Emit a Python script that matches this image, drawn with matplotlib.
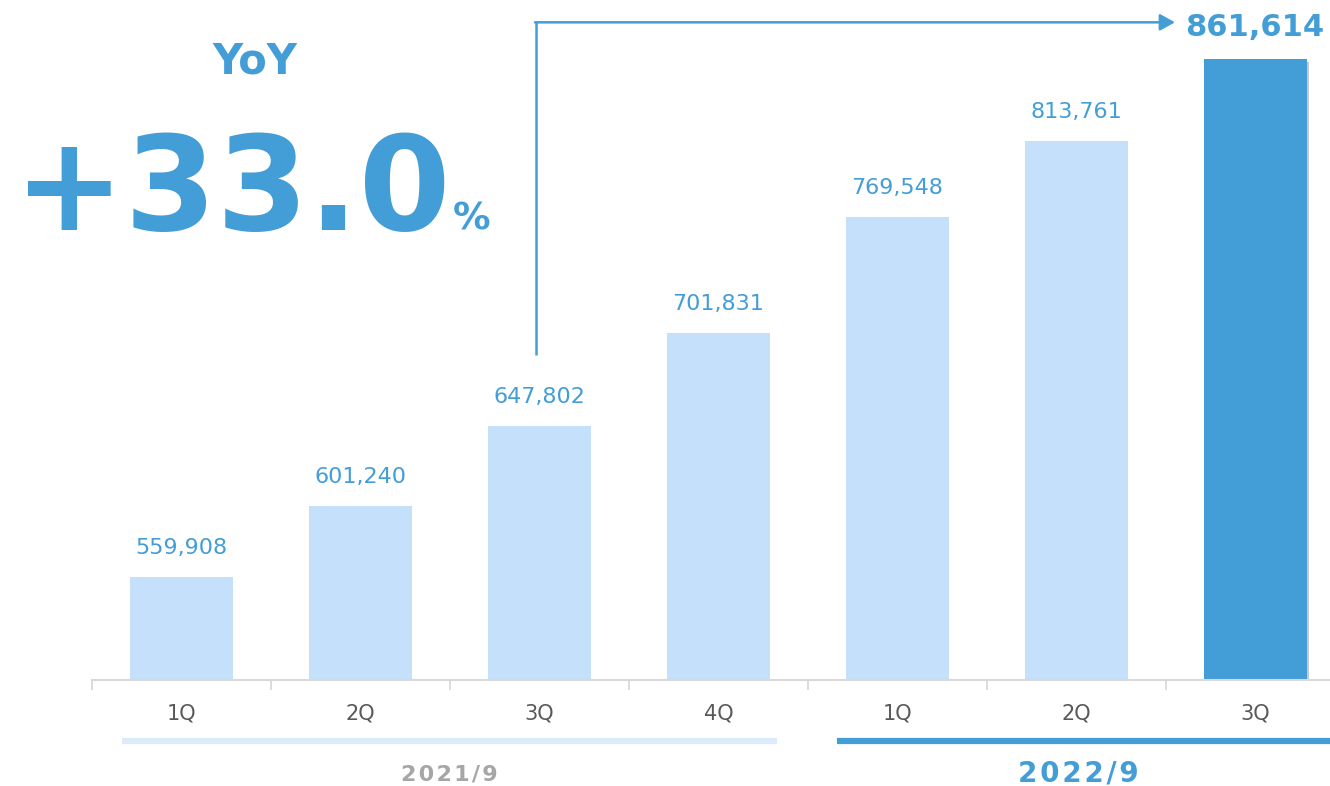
import matplotlib
matplotlib.use("Agg")

import matplotlib.pyplot as plt
import matplotlib.patheffects as pe
import numpy as np

# data
quarters = ["1Q", "2Q", "3Q", "4Q", "1Q", "2Q", "3Q"]
values = [559908, 601240, 647802, 701831, 769548, 813761, 861614]
years = ["2021/9", "2022/9"]
yoy_text = "+33.0"

dark_blue = "#439DD6"
light_blue = "#C4E0FB"
pale_blue = "#DDEAF7"
W, H = 1330, 786


def px(x, y):
    # pixel position -> figure fraction
    return x / W, 1 - y / H


def spaced(s):
    return "\u200a".join(s)


fig = plt.figure(figsize=(W / 100, H / 100), dpi=100)
ax = fig.add_axes([92 / W, 106 / H, 1253 / W, 680 / H])

x = np.arange(len(values))
colors = [light_blue] * (len(values) - 1) + [dark_blue]
bars = ax.bar(x, values, width=0.57, color=colors, zorder=2)
bars[-1].set_path_effects([pe.SimplePatchShadow(offset=(2, -2), alpha=0.25), pe.Normal()])

ax.set_xlim(-0.5, 6.5)
ax.set_ylim(500000, 896000)

# value labels (last one is drawn big at the arrow)
for i in range(len(values) - 1):
    ax.annotate("{:,}".format(values[i]), (x[i], values[i]), xytext=(0, 14),
                textcoords="offset points", ha="center", va="bottom",
                fontsize=16, color=dark_blue)

for s in ["top", "right", "left"]:
    ax.spines[s].set_visible(False)
ax.spines["bottom"].set_color("#D9D9D9")
ax.spines["bottom"].set_linewidth(1.5)
ax.set_yticks([])
ax.set_xticks(x)
ax.set_xticklabels(quarters, fontsize=15, color="#595959")
ax.tick_params(axis="x", which="major", length=0, pad=17)
ax.set_xticks(np.arange(-0.5, 7, 1), minor=True)
ax.tick_params(axis="x", which="minor", length=7, width=1.3, color="#D9D9D9")

# arrow from 3Q of last year to 3Q this year
y_top = 883000
ax.plot([1.98, 1.98], [689000, y_top], color=dark_blue, lw=1.8, clip_on=False,
        solid_capstyle="butt")
ax.annotate("", xy=(5.55, y_top), xytext=(1.975, y_top),
            arrowprops=dict(arrowstyle="-|>,head_length=0.9,head_width=0.5",
                            color=dark_blue, lw=1.8, shrinkA=0, shrinkB=0),
            annotation_clip=False)
fig.text(*px(1255, 28), "{:,}".format(values[-1]), ha="center", va="center",
         fontsize=22, fontweight="bold", color=dark_blue)

# YoY headline
fig.text(*px(255, 62), "YoY", ha="center", va="center", fontsize=30,
         fontweight="bold", color=dark_blue)
fig.text(*px(14, 230), yoy_text, ha="left", va="baseline", fontsize=95,
         fontweight="bold", color=dark_blue)
fig.text(*px(453, 230), "%", ha="left", va="baseline", fontsize=27,
         fontweight="bold", color=dark_blue)

# fiscal year brackets
fig.add_artist(plt.Line2D([122 / W, 777 / W], [1 - 741 / H] * 2, color=pale_blue, lw=4.5,
                          solid_capstyle="butt"))
fig.add_artist(plt.Line2D([837 / W, 1330 / W], [1 - 741 / H] * 2, color=dark_blue, lw=4.5,
                          solid_capstyle="butt"))
fig.text(*px(449, 774), spaced(years[0]), ha="center", va="center", fontsize=16,
         fontweight="bold", color="#A6A6A6")
fig.text(*px(1078, 774), spaced(years[1]), ha="center", va="center", fontsize=20,
         fontweight="bold", color=dark_blue)

plt.savefig("out.png", dpi=100)
plt.close()
